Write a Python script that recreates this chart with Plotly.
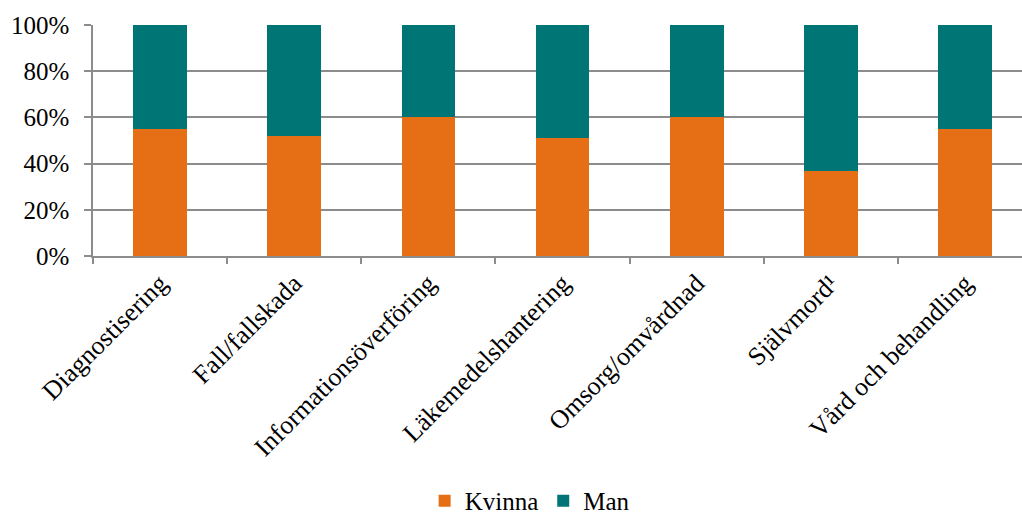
import plotly.graph_objects as go

categories = ["Diagnostisering", "Fall/fallskada", "Informationsöverföring",
              "Läkemedelshantering", "Omsorg/omvårdnad", "Självmord¹",
              "Vård och behandling"]
kvinna = [55, 52, 60, 51, 60, 37, 55]
man = [100 - v for v in kvinna]
y_ticks = [0, 20, 40, 60, 80, 100]
y_tick_labels = ["0%", "20%", "40%", "60%", "80%", "100%"]

ORANGE = "#E66F15"
TEAL = "#007575"
GRID = "#8C8C8C"
FONT = "Liberation Serif, Times New Roman, serif"

fig = go.Figure()
fig.add_trace(go.Bar(x=categories, y=kvinna, name="Kvinna",
                     marker=dict(color=ORANGE, line=dict(width=0)), width=0.4))
fig.add_trace(go.Bar(x=categories, y=man, name="Man",
                     marker=dict(color=TEAL, line=dict(width=0)), width=0.4))

fig.update_layout(
    barmode="stack",
    width=1022, height=519,
    margin=dict(l=93, r=0, t=25, b=263, autoexpand=False),
    paper_bgcolor="white", plot_bgcolor="white",
    font=dict(family=FONT, size=25, color="black"),
    showlegend=True,
    legend=dict(orientation="h", x=0.47, xanchor="center", y=-1.16,
                yanchor="bottom", font=dict(family=FONT, size=25, color="black"),
                traceorder="normal", itemwidth=30),
    xaxis=dict(
        type="category", range=[-0.5, 6.425], automargin=False,
        tickangle=-45, tickson="boundaries",
        ticks="outside", ticklen=6, tickcolor=GRID, tickwidth=1.5,
        showline=True, linecolor=GRID, linewidth=1.5,
        showgrid=False, tickfont=dict(family=FONT, size=26, color="black"),
    ),
    yaxis=dict(
        range=[0, 100], tickvals=y_ticks, ticktext=y_tick_labels,
        automargin=False,
        ticks="outside", ticklen=7, tickcolor=GRID, tickwidth=1.5,
        showline=True, linecolor=GRID, linewidth=1.5,
        showgrid=True, gridcolor=GRID, gridwidth=1.5,
        zeroline=False, tickfont=dict(family=FONT, size=25, color="black"),
        ticklabelstandoff=10,
    ),
)

fig.write_html("out.html")
